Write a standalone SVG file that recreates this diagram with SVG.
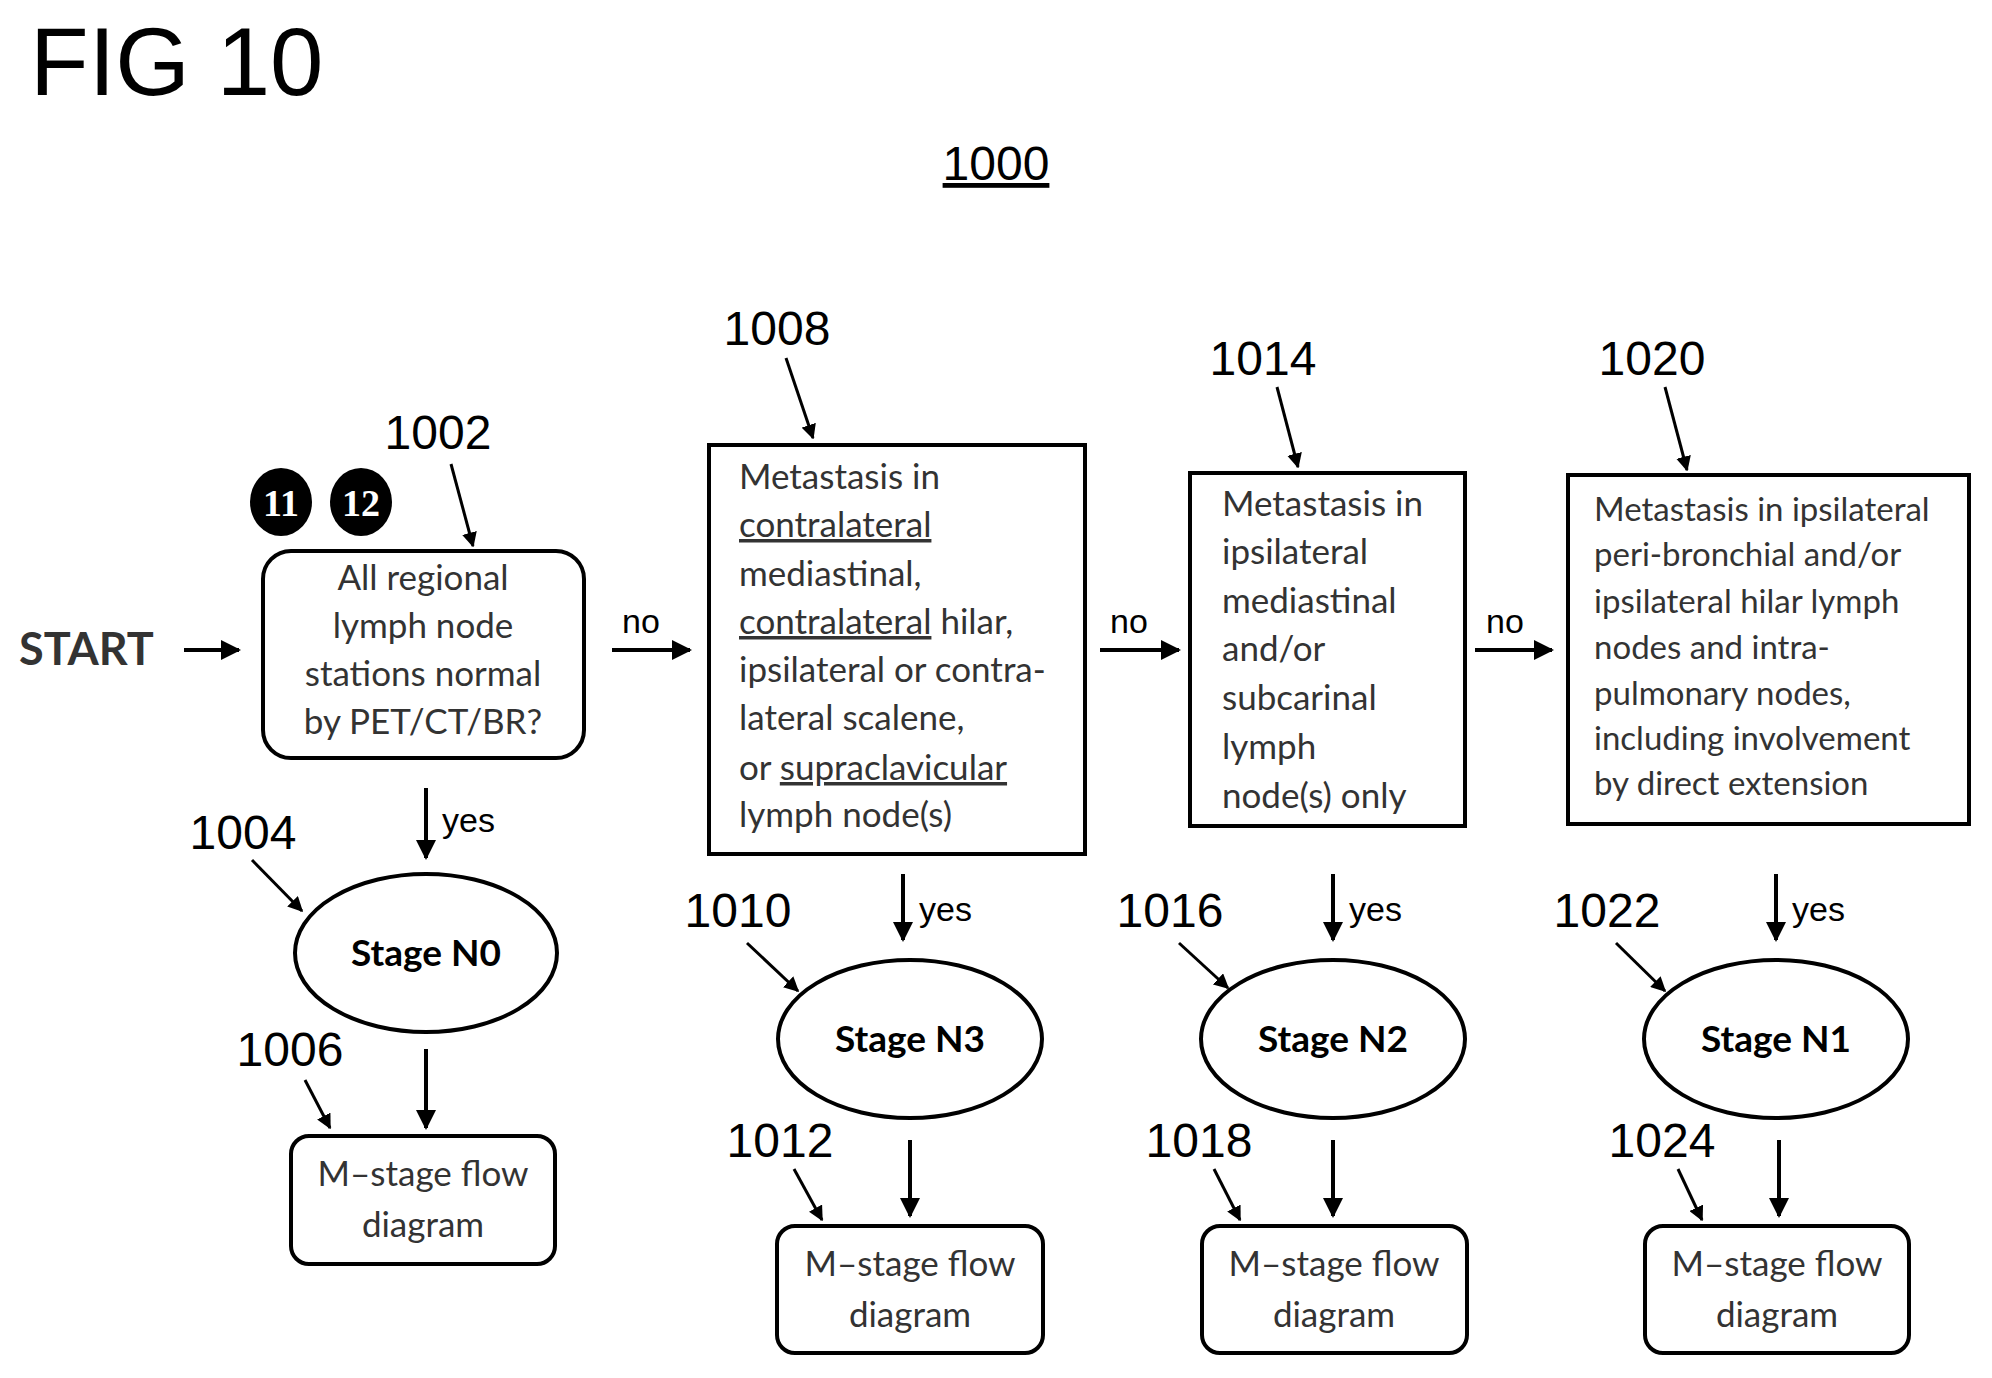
<svg xmlns="http://www.w3.org/2000/svg" width="1992" height="1378" viewBox="0 0 1992 1378">
<defs>
<marker id="ah" viewBox="0 0 10 10" refX="9" refY="5" markerWidth="5" markerHeight="5" orient="auto" markerUnits="strokeWidth"><path d="M0,0 L10,5 L0,10 z" fill="#000"/></marker>
</defs>
<style>
.box{fill:#fff;stroke:#000;stroke-width:4}
.t{font-family:Lato,"Open Sans",sans-serif;font-size:35px;fill:#333}
.c{text-anchor:middle}
.b{font-family:Lato,"Open Sans",sans-serif;font-size:37px;font-weight:bold;fill:#000;text-anchor:middle}
.n{font-family:"Liberation Sans",Arial,sans-serif;font-size:48px;fill:#000;text-anchor:middle}
.l{fill:none;stroke:#000;stroke-width:3;marker-end:url(#ah)}
.a{fill:none;stroke:#000;stroke-width:4;marker-end:url(#ah)}
.lbl{font-family:"Liberation Sans",Arial,sans-serif;font-size:34px;fill:#000}
</style>
<rect width="1992" height="1378" fill="#fff"/>
<text x="30" y="95" font-family="Liberation Sans,Arial,sans-serif" font-size="96">FIG 10</text>
<text x="996" y="180" class="n" text-decoration="underline">1000</text>
<g id="start"><text x="19" y="665" font-family="Lato,sans-serif" font-size="45" font-weight="bold" fill="#333">START</text></g>
<g id="badges">
<ellipse cx="281" cy="502" rx="31" ry="34" fill="#000"/><text x="281" y="516" text-anchor="middle" font-family="Liberation Serif,serif" font-weight="bold" font-size="38" fill="#fff">11</text>
<ellipse cx="361" cy="502" rx="31" ry="34" fill="#000"/><text x="361" y="516" text-anchor="middle" font-family="Liberation Serif,serif" font-weight="bold" font-size="38" fill="#fff">12</text>
</g>
<g id="n1002"><rect class="box" x="263" y="551" width="321" height="207" rx="28"/>
<text class="t c" x="423" y="590">All regional</text><text class="t c" x="423" y="638">lymph node</text><text class="t c" x="423" y="686">stations normal</text><text class="t c" x="423" y="734">by PET/CT/BR?</text></g>
<g id="n1008"><rect class="box" x="709" y="445" width="376" height="409"/>
<text class="t" x="739" y="489">Metastasis in</text>
<text class="t" x="739" y="537" text-decoration="underline">contralateral</text>
<text class="t" x="739" y="586">mediastinal,</text>
<text class="t" x="739" y="634"><tspan text-decoration="underline">contralateral</tspan> hilar,</text>
<text class="t" x="739" y="682">ipsilateral or contra-</text>
<text class="t" x="739" y="730">lateral scalene,</text>
<text class="t" x="739" y="780">or <tspan text-decoration="underline">supraclavicular</tspan></text>
<text class="t" x="739" y="827">lymph node(s)</text></g>
<g id="n1014"><rect class="box" x="1190" y="473" width="275" height="353"/>
<text class="t" x="1222" y="516">Metastasis in</text><text class="t" x="1222" y="564">ipsilateral</text><text class="t" x="1222" y="613">mediastinal</text><text class="t" x="1222" y="661">and/or</text><text class="t" x="1222" y="710">subcarinal</text><text class="t" x="1222" y="759">lymph</text><text class="t" x="1222" y="808">node(s) only</text></g>
<g id="n1020"><rect class="box" x="1568" y="475" width="401" height="349"/>
<text class="t" x="1594" y="521" style="font-size:33px">Metastasis in ipsilateral</text><text class="t" x="1594" y="566" style="font-size:33px">peri-bronchial and/or</text><text class="t" x="1594" y="613" style="font-size:33px">ipsilateral hilar lymph</text><text class="t" x="1594" y="659" style="font-size:33px">nodes and intra-</text><text class="t" x="1594" y="705" style="font-size:33px">pulmonary nodes,</text><text class="t" x="1594" y="750" style="font-size:33px">including involvement</text><text class="t" x="1594" y="795" style="font-size:33px">by direct extension</text></g>
<g id="n1004"><ellipse class="box" cx="426" cy="953" rx="131" ry="79"/><text class="b" x="426" y="966">Stage N0</text></g>
<g id="n1010"><ellipse class="box" cx="910" cy="1039" rx="132" ry="79"/><text class="b" x="910" y="1052">Stage N3</text></g>
<g id="n1016"><ellipse class="box" cx="1333" cy="1039" rx="132" ry="79"/><text class="b" x="1333" y="1052">Stage N2</text></g>
<g id="n1022"><ellipse class="box" cx="1776" cy="1039" rx="132" ry="79"/><text class="b" x="1776" y="1052">Stage N1</text></g>
<g id="n1006"><rect class="box" x="291" y="1136" width="264" height="128" rx="18"/><text class="t c" x="423" y="1186">M–stage flow</text><text class="t c" x="423" y="1237">diagram</text></g>
<g id="n1012"><rect class="box" x="777" y="1226" width="266" height="127" rx="18"/><text class="t c" x="910" y="1276">M–stage flow</text><text class="t c" x="910" y="1327">diagram</text></g>
<g id="n1018"><rect class="box" x="1202" y="1226" width="265" height="127" rx="18"/><text class="t c" x="1334" y="1276">M–stage flow</text><text class="t c" x="1334" y="1327">diagram</text></g>
<g id="n1024"><rect class="box" x="1645" y="1226" width="264" height="127" rx="18"/><text class="t c" x="1777" y="1276">M–stage flow</text><text class="t c" x="1777" y="1327">diagram</text></g>
<g id="refs">
<text class="n" x="438" y="449">1002</text><text class="n" x="777" y="345">1008</text><text class="n" x="1263" y="375">1014</text><text class="n" x="1652" y="375">1020</text>
<text class="n" x="243" y="849">1004</text><text class="n" x="738" y="927">1010</text><text class="n" x="1170" y="927">1016</text><text class="n" x="1607" y="927">1022</text>
<text class="n" x="290" y="1066">1006</text><text class="n" x="780" y="1157">1012</text><text class="n" x="1199" y="1157">1018</text><text class="n" x="1662" y="1157">1024</text>
</g>
<g id="connectors">
<path class="a" d="M184,650 H239"/>
<path class="a" d="M612,650 H690"/><text class="lbl" x="622" y="633">no</text>
<path class="a" d="M1100,650 H1179"/><text class="lbl" x="1110" y="633">no</text>
<path class="a" d="M1475,650 H1552"/><text class="lbl" x="1486" y="633">no</text>
<path class="a" d="M426,788 V858"/><text class="lbl" x="442" y="832">yes</text>
<path class="a" d="M903,874 V940"/><text class="lbl" x="919" y="921">yes</text>
<path class="a" d="M1333,874 V940"/><text class="lbl" x="1349" y="921">yes</text>
<path class="a" d="M1776,874 V940"/><text class="lbl" x="1792" y="921">yes</text>
<path class="a" d="M426,1049 V1128"/>
<path class="a" d="M910,1140 V1216"/>
<path class="a" d="M1333,1140 V1216"/>
<path class="a" d="M1779,1140 V1216"/>
<path class="l" d="M451,464 L473,546"/>
<path class="l" d="M786,358 L813,438"/>
<path class="l" d="M1277,387 L1298,467"/>
<path class="l" d="M1665,387 L1687,470"/>
<path class="l" d="M252,860 L302,911"/>
<path class="l" d="M747,943 L798,991"/>
<path class="l" d="M1179,943 L1228,988"/>
<path class="l" d="M1616,943 L1665,991"/>
<path class="l" d="M305,1080 L330,1128"/>
<path class="l" d="M794,1169 L822,1220"/>
<path class="l" d="M1214,1169 L1240,1220"/>
<path class="l" d="M1678,1169 L1702,1220"/>
</g>
</svg>
